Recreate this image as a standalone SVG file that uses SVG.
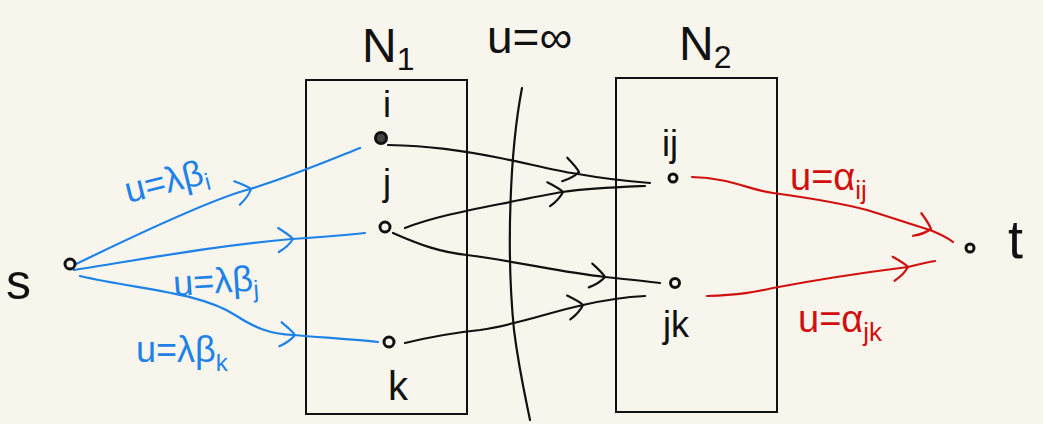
<svg xmlns="http://www.w3.org/2000/svg" xmlns:xlink="http://www.w3.org/1999/xlink" width="1043" height="424" viewBox="0 0 1043 424">
<style>
.bg{fill:#f8f6ec}
.box{fill:none;stroke:#111;stroke-width:2}
.e{fill:none;stroke-width:2.2;stroke-linecap:round}
.blk{stroke:#111}
.blu{stroke:#1e82e8}
.red{stroke:#d10f0f}
.node{fill:#f8f6ec;stroke:#111;stroke-width:3}
.t{font-family:"Liberation Sans",Arial,sans-serif;fill:#111}
.tb{font-family:"Liberation Sans",Arial,sans-serif;fill:#1e82e8;font-size:36px}
.tr{font-family:"Liberation Sans",Arial,sans-serif;fill:#d10f0f;font-size:38px}
</style>
<defs>
<path id="chev" d="M-14,-12 Q-3,-4 0,0 Q-5,7 -15,12" fill="none" stroke-width="2.2" stroke-linecap="round"/>
</defs>
<rect class="bg" x="0" y="0" width="1043" height="424"/>
<g id="N1box"><rect class="box" x="306" y="80" width="161" height="334"/></g>
<g id="N2box"><rect class="box" x="616" y="78" width="161" height="334"/></g>
<g id="labels">
<text class="t" x="362" y="62" font-size="48">N<tspan font-size="32" dy="8">1</tspan></text>
<text class="t" x="487" y="53" font-size="46">u=∞</text>
<text class="t" x="679" y="60" font-size="48">N<tspan font-size="32" dy="8">2</tspan></text>
</g>
<g id="connectors">
<path class="e blk" d="M522,88 C510,150 506,250 514,330 C519,370 526,400 530,420"/>
<path class="e blu" d="M72,266 C150,228 215,198 250,189 C290,177 330,160 360,148"/>
<use xlink:href="#chev" class="blu" transform="translate(251,189) rotate(-16)"/>
<path class="e blu" d="M74,270 C150,258 220,245 292,239 C320,237 345,235 365,233"/>
<use xlink:href="#chev" class="blu" transform="translate(293,239) rotate(-4)"/>
<path class="e blu" d="M80,276 C140,290 200,292 235,315 C255,328 270,334 293,335 C330,338 360,340 378,342"/>
<use xlink:href="#chev" class="blu" transform="translate(295,335) rotate(3)"/>
<path class="e blk" d="M388,145 C430,146 460,150 500,158 C540,166 560,172 578,174 C600,178 625,181 650,183"/>
<use xlink:href="#chev" class="blk" transform="translate(579,172) rotate(10)"/>
<path class="e blk" d="M405,228 C430,218 460,212 500,204 C530,198 545,195 562,192 C590,188 620,187 645,186"/>
<use xlink:href="#chev" class="blk" transform="translate(563,192) rotate(-9)"/>
<path class="e blk" d="M393,233 C420,245 440,252 467,255 C520,262 560,272 605,277 C625,279 645,281 660,283"/>
<use xlink:href="#chev" class="blk" transform="translate(605,277) rotate(6)"/>
<path class="e blk" d="M405,343 C430,337 450,333 480,330 C520,324 550,312 583,305 C605,300 625,297 645,296"/>
<use xlink:href="#chev" class="blk" transform="translate(583,305) rotate(-10)"/>
<path class="e red" d="M692,177 C730,178 750,190 773,193 C810,198 840,203 867,210 C890,217 910,224 930,230 C940,234 948,238 953,242"/>
<use xlink:href="#chev" class="red" transform="translate(931,229) rotate(18)"/>
<path class="e red" d="M707,296 C740,295 755,292 773,288 C810,281 860,273 908,267 C920,264 928,262 935,261"/>
<use xlink:href="#chev" class="red" transform="translate(908,267) rotate(-7)"/>
</g>
<g id="s"><circle class="node" cx="70" cy="264" r="5"/><text class="t" x="6" y="299" font-size="50">s</text></g>
<g id="i"><circle class="node" cx="381" cy="138" r="5.5" style="fill:#444"/><text class="t" x="387" y="117" font-size="36" text-anchor="middle">i</text></g>
<g id="j"><circle class="node" cx="385" cy="227" r="5"/><text class="t" x="387" y="195" font-size="36" text-anchor="middle">j</text></g>
<g id="k"><circle class="node" cx="389" cy="342" r="5"/><text class="t" x="398" y="400" font-size="40" text-anchor="middle">k</text></g>
<g id="ij"><circle class="node" cx="673" cy="178" r="4"/><text class="t" x="670" y="156" font-size="36" text-anchor="middle">ij</text></g>
<g id="jk"><circle class="node" cx="675" cy="283" r="4.5"/><text class="t" x="676" y="337" font-size="36" text-anchor="middle">jk</text></g>
<g id="t"><circle class="node" cx="970" cy="248" r="4"/><text class="t" x="1008" y="258" font-size="54">t</text></g>
<g id="edge-labels">
<text class="tb" transform="translate(128,203) rotate(-14)">u=λβ<tspan font-size="24" dy="7">i</tspan></text>
<text class="tb" transform="translate(174,296) rotate(-4)">u=λβ<tspan font-size="24" dy="7">j</tspan></text>
<text class="tb" x="136" y="362">u=λβ<tspan font-size="24" dy="9">k</tspan></text>
<text class="tr" x="790" y="190">u=α<tspan font-size="26" dy="9">ij</tspan></text>
<text class="tr" x="798" y="332">u=α<tspan font-size="26" dy="9">jk</tspan></text>
</g>
</svg>
